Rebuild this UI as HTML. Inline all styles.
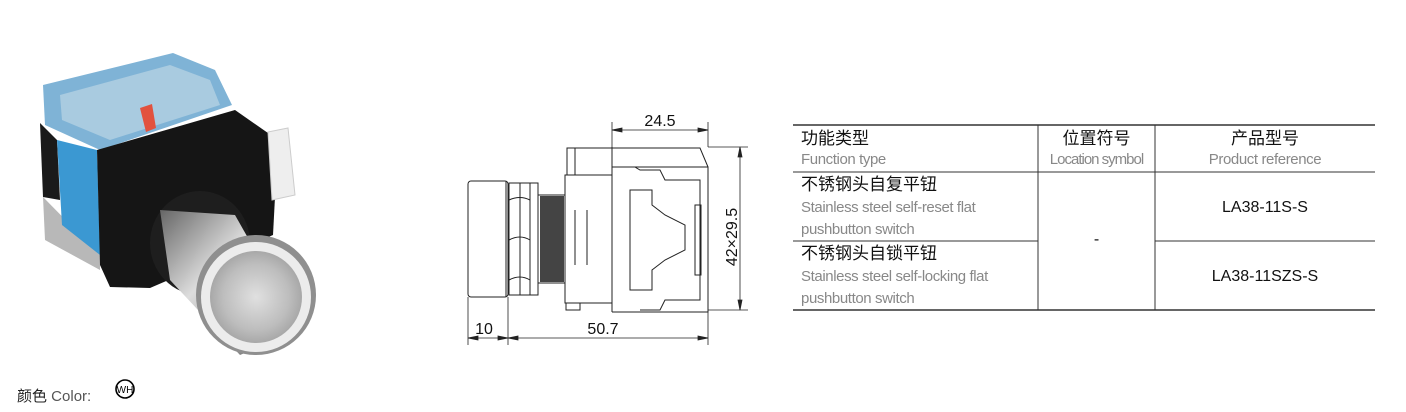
<!DOCTYPE html>
<html><head><meta charset="utf-8"><style>
body{margin:0;width:1406px;height:412px;background:#fff;position:relative;overflow:hidden;font-family:"Liberation Sans","Noto Sans CJK SC",sans-serif}
.t{position:absolute;white-space:nowrap;line-height:1.2}
.cn{font-size:17px;color:#111}
.en{font-size:15px;color:#888;letter-spacing:-0.4px}
.pr{font-size:16px;color:#111}
</style></head><body>
<svg width="1406" height="412" style="position:absolute;left:0;top:0">
<defs>
<linearGradient id="st" x1="0" y1="0" x2="1" y2="1"><stop offset="0" stop-color="#666"/><stop offset="0.4" stop-color="#ddd"/><stop offset="0.7" stop-color="#999"/><stop offset="1" stop-color="#555"/></linearGradient>
<radialGradient id="fc" cx="0.5" cy="0.5" r="0.6"><stop offset="0" stop-color="#e0e0e0"/><stop offset="0.6" stop-color="#bdbdbd"/><stop offset="1" stop-color="#999"/></radialGradient>
</defs>
<polygon points="43,85 173,53 215,70 232,105 100,150 45,125" fill="#7fb3d6"/>
<polygon points="60,95 170,65 210,80 220,105 110,140 62,120" fill="#a9cbe0"/>
<polygon points="140,108 152,104 156,128 146,132" fill="#e2523e"/>
<polygon points="40,123 57,140 60,200 43,197" fill="#1a1a1a"/>
<polygon points="43,197 100,255 100,270 45,240" fill="#b8b8b8"/>
<polygon points="57,140 97,150 100,255 62,225" fill="#3b98d2"/>
<polygon points="97,150 235,110 278,140 273,235 150,288 110,287 100,265" fill="#151515"/>
<polygon points="268,132 288,128 295,195 272,200" fill="#eee" stroke="#ccc"/>
<ellipse cx="200" cy="243" rx="50" ry="52" fill="#1e1e1e"/>
<polygon points="160,210 235,215 300,330 240,355 170,280" fill="url(#st)"/>
<ellipse cx="256" cy="295" rx="60" ry="60" fill="#8f8f8f"/>
<ellipse cx="256" cy="297" rx="55" ry="55" fill="#ececec"/>
<ellipse cx="256" cy="297" rx="46" ry="46" fill="url(#fc)"/>
<circle cx="125" cy="389" r="9" fill="none" stroke="#000" stroke-width="1.6"/>
<text x="125" y="393" font-size="10" text-anchor="middle" font-family="Liberation Sans">WH</text>
<g fill="none" stroke="#222" stroke-width="1">
<rect x="468" y="181" width="40" height="116" rx="3"/>
<line x1="506" y1="181" x2="506" y2="297"/>
<rect x="509" y="183" width="29" height="112"/>
<line x1="520" y1="183" x2="520" y2="295"/><line x1="530" y1="183" x2="530" y2="295"/>
<path d="M509 200 Q520 195 530 200 M509 240 Q520 234 530 240 M509 280 Q520 274 530 280"/>
<rect x="538" y="195" width="27" height="88"/>
<rect x="565" y="175" width="47" height="128"/>
<path d="M567 175 L567 148 L575 148 L575 175 M566 303 L566 310 L580 310 L580 303"/>
<path d="M612 147 L612 312 M612 167 L708 167 L708 312 L612 312 M575 148 L700 148 L708 167"/>
<line x1="575" y1="210" x2="575" y2="265"/><line x1="587" y1="210" x2="587" y2="265"/>
<path d="M635 167 L640 170 L660 170 L665 180 L700 180 L700 300 L665 300 L660 310 L640 310 M630 190 L652 190 L652 205 L665 215 L685 225 L685 250 L665 260 L652 270 L652 290 L630 290 Z"/>
<rect x="695" y="205" width="6" height="70"/>
</g>
<g stroke="#222" stroke-width="0.8" fill="#222">
<rect x="540" y="196" width="24" height="86" fill="#444" stroke="none"/>
<line x1="612" y1="122" x2="612" y2="147"/><line x1="708" y1="122" x2="708" y2="147"/>
<line x1="612" y1="130" x2="708" y2="130"/>
<polygon points="612,130 622,128 622,132"/><polygon points="708,130 698,128 698,132"/>
<line x1="708" y1="147" x2="748" y2="147"/><line x1="708" y1="310" x2="748" y2="310"/>
<line x1="740" y1="147" x2="740" y2="310"/>
<polygon points="740,147 738,157 742,157"/><polygon points="740,310 738,300 742,300"/>
<line x1="468" y1="297" x2="468" y2="345"/><line x1="508" y1="297" x2="508" y2="345"/><line x1="708" y1="312" x2="708" y2="345"/>
<line x1="468" y1="338" x2="708" y2="338"/>
<polygon points="468,338 478,336 478,340"/><polygon points="508,338 498,336 498,340"/><polygon points="508,338 518,336 518,340"/><polygon points="708,338 698,336 698,340"/>
</g>
<g font-family="Liberation Sans" font-size="16" fill="#111">
<text x="660" y="126" text-anchor="middle">24.5</text>
<text x="484" y="334" text-anchor="middle">10</text>
<text x="603" y="334" text-anchor="middle">50.7</text>
<text transform="translate(737,237) rotate(-90)" text-anchor="middle">42×29.5</text>
</g>
<g stroke="#333">
<line x1="793" y1="125" x2="1375" y2="125" stroke-width="1.5"/>
<line x1="793" y1="172" x2="1375" y2="172"/>
<line x1="793" y1="241" x2="1038" y2="241"/><line x1="1155" y1="241" x2="1375" y2="241"/>
<line x1="793" y1="310" x2="1375" y2="310" stroke-width="1.5"/>
<line x1="1038" y1="125" x2="1038" y2="310"/><line x1="1155" y1="125" x2="1155" y2="310"/>
</g>
</svg>
<div class="t cn" style="left:801px;top:129px">功能类型</div>
<div class="t en" style="left:801px;top:151px">Function type</div>
<div class="t cn" style="left:1038px;width:117px;text-align:center;top:129px">位置符号</div>
<div class="t en" style="left:1038px;width:117px;text-align:center;top:151px;letter-spacing:-1px">Location symbol</div>
<div class="t cn" style="left:1155px;width:220px;text-align:center;top:129px">产品型号</div>
<div class="t en" style="left:1155px;width:220px;text-align:center;top:151px">Product reference</div>
<div class="t cn" style="left:801px;top:175px">不锈钢头自复平钮</div>
<div class="t en" style="left:801px;top:199px">Stainless steel self-reset flat</div>
<div class="t en" style="left:801px;top:221px">pushbutton switch</div>
<div class="t cn" style="left:801px;top:244px">不锈钢头自锁平钮</div>
<div class="t en" style="left:801px;top:268px">Stainless steel self-locking flat</div>
<div class="t en" style="left:801px;top:290px">pushbutton switch</div>
<div class="t pr" style="left:1038px;width:117px;text-align:center;top:230px">-</div>
<div class="t pr" style="left:1155px;width:220px;text-align:center;top:198px">LA38-11S-S</div>
<div class="t pr" style="left:1155px;width:220px;text-align:center;top:267px">LA38-11SZS-S</div>
<div class="t" style="left:17px;top:388px;font-size:15px;color:#555"><span style="color:#222">颜色</span> Color:</div>
</body></html>
